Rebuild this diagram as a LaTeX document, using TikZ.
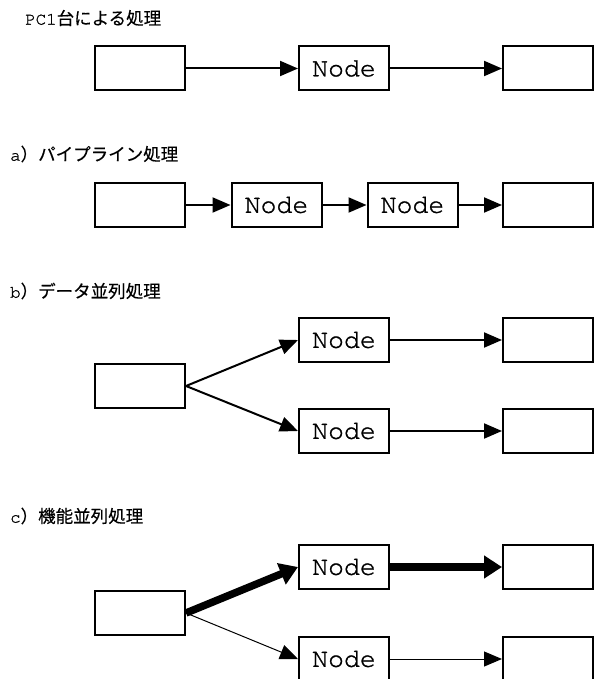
\documentclass[tikz,border=0pt]{standalone}
\usepackage{fontspec}
\newfontfamily\jp[FakeBold=0.4]{Noto Sans CJK JP}
\newfontfamily\mono[FakeBold=1]{TeX Gyre Cursor}
\usetikzlibrary{arrows.meta}

\begin{document}
\begin{tikzpicture}[x=1pt,y=-1pt,
  box/.style={draw, line width=2pt, minimum width=90pt, minimum height=44pt,
    inner sep=0pt, font=\mono\fontsize{26.5}{26.5}\selectfont},
  link/.style={line width=2pt, -{Triangle[length=18pt,width=15pt]}},
  thinlink/.style={line width=1pt, -{Triangle[length=18pt,width=15pt]}},
  heavylink/.style={line width=7.5pt, -{Triangle[length=18pt,width=22pt]}},
  caption/.style={anchor=west, inner sep=0pt},
]
\useasboundingbox (0,0) rectangle (594,679);

% captions
\newcommand{\latin}[1]{{\mono\fontsize{17.5}{17.5}\selectfont #1}}
\newcommand{\jtext}[1]{{\jp\fontsize{17.5}{17.5}\selectfont #1}}
\node[caption] (t0) at (25,18)  {\latin{PC1}\jtext{台による処理}};
\node[caption] (ta) at (10,154) {\latin{a}\jtext{）パイプライン処理}};
\node[caption] (tb) at (10,291) {\latin{b}\jtext{）データ並列処理}};
\node[caption] (tc) at (10,516) {\latin{c}\jtext{）機能並列処理}};

% single machine
\node[box] (s1) at (140,68.5) {};
\node[box] (s2) at (344,68.5) {Node};
\node[box] (s3) at (548,68.5) {};
\draw[link] (s1) -- (s2);
\draw[link] (s2) -- (s3);

% a) pipeline
\node[box] (a1) at (140,205) {};
\node[box] (a2) at (276.5,205) {Node};
\node[box] (a3) at (412.5,205) {Node};
\node[box] (a4) at (548,205) {};
\draw[link] (a1) -- (a2);
\draw[link] (a2) -- (a3);
\draw[link] (a3) -- (a4);

% b) data parallel
\node[box] (b0) at (140,386) {};
\node[box] (b1) at (344,340) {Node};
\node[box] (b2) at (344,431) {Node};
\node[box] (b3) at (548,340) {};
\node[box] (b4) at (548,431) {};
\draw[link] (b0.east) -- (b1.west);
\draw[link] (b0.east) -- (b2.west);
\draw[link] (b1) -- (b3);
\draw[link] (b2) -- (b4);

% c) functional parallel
\node[box] (c0) at (140,613) {};
\node[box] (c1) at (344,567) {Node};
\node[box] (c2) at (344,659) {Node};
\node[box] (c3) at (548,567) {};
\node[box] (c4) at (548,659) {};
\draw[heavylink] (c0.east) -- (c1.west);
\draw[thinlink] (c0.east) -- (c2.west);
\draw[heavylink] (c1) -- (c3);
\draw[thinlink] (c2) -- (c4);
\end{tikzpicture}
\end{document}
